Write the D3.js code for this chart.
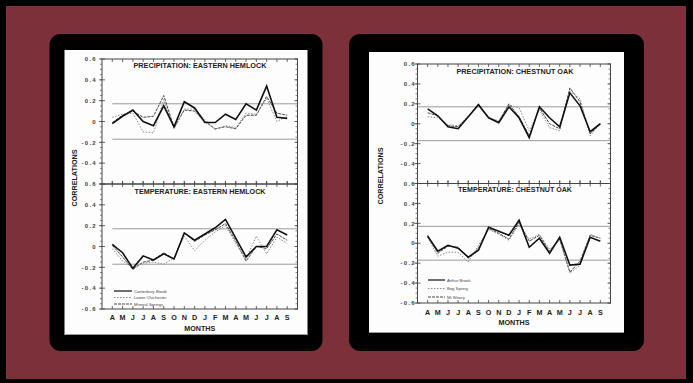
<!DOCTYPE html>
<html>
<head>
<meta charset="utf-8">
<script src="https://cdn.jsdelivr.net/npm/d3@7"></script>
<style>
  html, body { margin: 0; padding: 0; background: #000; }
  svg { display: block; }
  text { font-family: "Liberation Sans", Arial, sans-serif; }
</style>
</head>
<body>
<svg id="chart" width="693" height="383"></svg>
<script>
// ---------------- DATA ----------------
const months = ["A","M","J","J","A","S","O","N","D","J","F","M","A","M","J","J","A","S"];
const yTickValues = [0.6, 0.4, 0.2, 0, -0.2, -0.4, -0.6];
const significance = 0.17;

const hemlockSites = ["Canterbury Brook", "Lower Chichester", "Mineral Springs"];
const oakSites = ["Arthur Brook", "Bog Spring", "Mt Weary"];

// Eastern Hemlock - precipitation
const hemPrecipCanterbury = [-0.02, 0.05, 0.11, 0.00, -0.04, 0.15, -0.05, 0.19, 0.13, -0.01, -0.01, 0.07, 0.02, 0.17, 0.11, 0.34, 0.04, 0.03];
const hemPrecipChichester = [0.04, 0.07, 0.08, -0.10, -0.11, 0.21, -0.07, 0.12, 0.12, 0.02, -0.08, -0.04, -0.06, 0.08, 0.07, 0.22, 0.00, 0.05];
const hemPrecipMineral    = [-0.01, 0.06, 0.10, 0.04, 0.05, 0.25, -0.06, 0.11, 0.10, 0.00, -0.07, -0.05, -0.07, 0.06, 0.06, 0.24, 0.08, 0.06];
// Eastern Hemlock - temperature
const hemTempCanterbury = [0.02, -0.06, -0.21, -0.09, -0.13, -0.07, -0.12, 0.13, 0.06, 0.12, 0.18, 0.26, 0.08, -0.10, 0.00, 0.00, 0.16, 0.11];
const hemTempChichester = [-0.02, -0.14, -0.20, -0.16, -0.15, -0.17, -0.11, 0.10, -0.04, 0.06, 0.14, 0.20, 0.03, -0.12, 0.10, -0.07, 0.09, 0.03];
const hemTempMineral    = [0.01, -0.10, -0.22, -0.15, -0.13, -0.06, -0.12, 0.13, 0.05, 0.11, 0.16, 0.22, 0.05, -0.14, 0.00, -0.02, 0.12, 0.06];

// Chestnut Oak - precipitation
const oakPrecipArthur = [0.15, 0.08, -0.03, -0.05, 0.07, 0.19, 0.06, 0.01, 0.17, 0.06, -0.14, 0.17, 0.06, -0.03, 0.31, 0.18, -0.08, 0.00];
const oakPrecipBog    = [0.07, 0.06, -0.01, -0.02, 0.08, 0.18, 0.06, 0.03, 0.19, 0.16, -0.07, 0.14, -0.04, -0.07, 0.33, 0.25, -0.12, 0.00];
const oakPrecipWeary  = [0.11, 0.08, -0.02, -0.03, 0.07, 0.20, 0.06, 0.02, 0.20, 0.07, -0.12, 0.16, 0.00, -0.05, 0.36, 0.22, -0.10, 0.00];
// Chestnut Oak - temperature
const oakTempArthur = [0.07, -0.08, -0.02, -0.05, -0.14, -0.07, 0.16, 0.12, 0.08, 0.23, -0.04, 0.05, -0.10, 0.06, -0.22, -0.21, 0.06, 0.02];
const oakTempBog    = [0.06, -0.13, -0.09, -0.09, -0.19, -0.02, 0.14, 0.09, 0.03, 0.19, 0.04, 0.09, -0.06, 0.03, -0.30, -0.22, 0.09, 0.05];
const oakTempWeary  = [0.08, -0.10, -0.03, -0.04, -0.15, -0.05, 0.15, 0.10, 0.04, 0.21, 0.02, 0.08, -0.08, 0.04, -0.29, -0.18, 0.08, 0.05];

// ---------------- STYLES ----------------
const seriesStyles = [
  { stroke: "#111", width: 1.6, dash: null },       // solid (first site)
  { stroke: "#8a8a8a", width: 1.0, dash: "1.5,1.5" }, // dotted (second site)
  { stroke: "#333", width: 0.9, dash: "3,1" }       // dashed (third site)
];

const svg = d3.select("#chart");

// background
svg.append("rect").attr("x", 0).attr("y", 0).attr("width", 693).attr("height", 383).attr("fill", "#000");
svg.append("rect").attr("x", 6).attr("y", 6).attr("width", 680).attr("height", 373).attr("fill", "#7b303a");

function drawPanel(cfg) {
  const g = svg.append("g");
  // black rounded panel
  g.append("rect").attr("x", cfg.panel[0]).attr("y", cfg.panel[1])
    .attr("width", cfg.panel[2]).attr("height", cfg.panel[3])
    .attr("rx", 11).attr("fill", "#000");
  // white paper
  g.append("rect").attr("x", cfg.paper[0]).attr("y", cfg.paper[1])
    .attr("width", cfg.paper[2]).attr("height", cfg.paper[3])
    .attr("fill", "#fdfdfd");
  g.append("line").attr("x1", cfg.paper[0]).attr("x2", cfg.paper[0] + cfg.paper[2])
    .attr("y1", cfg.paper[1] + cfg.paper[3] - 0.5).attr("y2", cfg.paper[1] + cfg.paper[3] - 0.5)
    .attr("stroke", "#999").attr("stroke-width", 1);

  const [x0, x1] = cfg.plotX;
  const x = d3.scaleLinear().domain([-1, months.length]).range([x0, x1]);

  const subplots = [
    { top: cfg.top, bottom: cfg.mid, title: cfg.titles[0], data: cfg.precip, titleY: cfg.titleY[0], first: true },
    { top: cfg.mid, bottom: cfg.bottom, title: cfg.titles[1], data: cfg.temp, titleY: cfg.titleY[1], first: false }
  ];

  subplots.forEach(sp => {
    const y = d3.scaleLinear().domain([-0.6, 0.6]).range([sp.bottom, sp.top]);

    // significance lines
    [significance, -significance].forEach(v => {
      g.append("line")
        .attr("x1", cfg.sigStart(x)).attr("x2", x1)
        .attr("y1", y(v)).attr("y2", y(v))
        .attr("stroke", "#9a9a9a").attr("stroke-width", 1);
    });

    // frame
    g.append("rect").attr("x", x0).attr("y", sp.top)
      .attr("width", x1 - x0).attr("height", sp.bottom - sp.top)
      .attr("fill", "none").attr("stroke", "#444").attr("stroke-width", 1);

    // y axis ticks (left: minor outward, major crossing), right: inward
    const minor = d3.range(-0.6, 0.6001, 0.05);
    minor.forEach(v => {
      const yy = y(v);
      g.append("line").attr("x1", x0 - 2).attr("x2", x0).attr("y1", yy).attr("y2", yy)
        .attr("stroke", "#555").attr("stroke-width", 0.7);
      g.append("line").attr("x1", x1 - 2).attr("x2", x1).attr("y1", yy).attr("y2", yy)
        .attr("stroke", "#555").attr("stroke-width", 0.7);
    });
    yTickValues.forEach(v => {
      const yy = y(v);
      g.append("line").attr("x1", x0 - 3).attr("x2", x0 + 3).attr("y1", yy).attr("y2", yy)
        .attr("stroke", "#444").attr("stroke-width", 0.8);
      g.append("line").attr("x1", x1 - 3).attr("x2", x1).attr("y1", yy).attr("y2", yy)
        .attr("stroke", "#444").attr("stroke-width", 0.8);
    });

    // y tick labels (skip -0.6 on the upper plot: shared line)
    yTickValues.forEach(v => {
      if (sp.first && v === -0.6) return;
      const label = v === 0 ? "0" : (v < 0 ? "-" : "") + Math.abs(v).toFixed(1);
      g.append("text")
        .attr("x", x0 - cfg.labelGap).attr("y", y(v) + 2.2)
        .attr("text-anchor", "end")
        .attr("font-size", 6).attr("font-weight", "bold")
        .attr("letter-spacing", 1.3)
        .attr("fill", "#444")
        .text(label);
    });

    // month ticks on top and bottom edges
    months.forEach((m, i) => {
      const xx = x(i);
      g.append("line").attr("x1", xx).attr("x2", xx).attr("y1", sp.top - (sp.first ? 0 : 3)).attr("y2", sp.top + 3)
        .attr("stroke", "#444").attr("stroke-width", 0.8);
      g.append("line").attr("x1", xx).attr("x2", xx).attr("y1", sp.bottom - 3).attr("y2", sp.bottom)
        .attr("stroke", "#444").attr("stroke-width", 0.8);
    });

    // title
    g.append("text")
      .attr("x", cfg.titleX).attr("y", sp.titleY)
      .attr("text-anchor", "middle")
      .attr("font-size", 8).attr("font-weight", "bold").attr("fill", "#222")
      .attr("textLength", sp.first ? cfg.titleLen[0] : cfg.titleLen[1])
      .attr("lengthAdjust", "spacingAndGlyphs")
      .text(sp.title);

    // series lines
    const line = d3.line().x((d, i) => x(i)).y(d => y(d));
    [2, 1, 0].forEach(k => {
      const st = seriesStyles[k];
      g.append("path")
        .datum(sp.data[k])
        .attr("d", line)
        .attr("fill", "none")
        .attr("stroke", st.stroke)
        .attr("stroke-width", st.width)
        .attr("stroke-dasharray", st.dash)
        .attr("stroke-linejoin", "miter");
    });
  });

  // month labels
  months.forEach((m, i) => {
    g.append("text")
      .attr("x", x(i)).attr("y", cfg.monthY)
      .attr("text-anchor", "middle")
      .attr("font-size", 7.2).attr("font-weight", "bold").attr("fill", "#222")
      .text(m);
  });
  g.append("text")
    .attr("x", (x0 + x1) / 2).attr("y", cfg.monthsTitleY)
    .attr("text-anchor", "middle")
    .attr("font-size", 8).attr("font-weight", "bold").attr("fill", "#222")
    .attr("textLength", 31).attr("lengthAdjust", "spacingAndGlyphs")
    .text("MONTHS");

  // y axis title
  g.append("text")
    .attr("transform", `translate(${cfg.corrX},${cfg.corrY}) rotate(-90)`)
    .attr("text-anchor", "middle")
    .attr("font-size", 7.5).attr("font-weight", "bold").attr("fill", "#222")
    .attr("textLength", 57).attr("lengthAdjust", "spacingAndGlyphs")
    .text("CORRELATIONS");

  // legend
  cfg.sites.forEach((s, k) => {
    const st = seriesStyles[k];
    const ly = cfg.legendY[k];
    g.append("line")
      .attr("x1", cfg.legendX[0]).attr("x2", cfg.legendX[1])
      .attr("y1", ly).attr("y2", ly)
      .attr("stroke", st.stroke).attr("stroke-width", k === 0 ? 1.2 : st.width)
      .attr("stroke-dasharray", st.dash);
    g.append("text")
      .attr("x", cfg.legendX[1] + 2).attr("y", ly + 1.5)
      .attr("font-size", 4.2).attr("fill", "#444")
      .text(s);
  });
}

drawPanel({
  panel: [49.5, 34, 273, 317],
  paper: [64.5, 50, 243, 285],
  plotX: [102, 297.5],
  top: 59, mid: 184, bottom: 309,
  titles: ["PRECIPITATION: EASTERN HEMLOCK", "TEMPERATURE: EASTERN HEMLOCK"],
  titleX: 200, titleY: [68, 194], titleLen: [133, 131],
  labelGap: 5,
  sigStart: x => x(0),
  precip: [hemPrecipCanterbury, hemPrecipChichester, hemPrecipMineral],
  temp: [hemTempCanterbury, hemTempChichester, hemTempMineral],
  sites: hemlockSites,
  monthY: 320, monthsTitleY: 330.5,
  corrX: 77, corrY: 178,
  legendX: [114, 132], legendY: [291, 297.5, 304]
});

drawPanel({
  panel: [349, 34, 295, 317],
  paper: [369, 52, 255, 281],
  plotX: [417.5, 610.5],
  top: 64, mid: 183.5, bottom: 303,
  titles: ["PRECIPITATION: CHESTNUT OAK", "TEMPERATURE: CHESTNUT OAK"],
  titleX: 515, titleY: [74, 192], titleLen: [117, 114],
  labelGap: 1.5,
  sigStart: x => x(-1),
  precip: [oakPrecipArthur, oakPrecipBog, oakPrecipWeary],
  temp: [oakTempArthur, oakTempBog, oakTempWeary],
  sites: oakSites,
  monthY: 315, monthsTitleY: 324.5,
  corrX: 383, corrY: 176,
  legendX: [428, 445], legendY: [280, 288.5, 297]
});
</script>
</body>
</html>
